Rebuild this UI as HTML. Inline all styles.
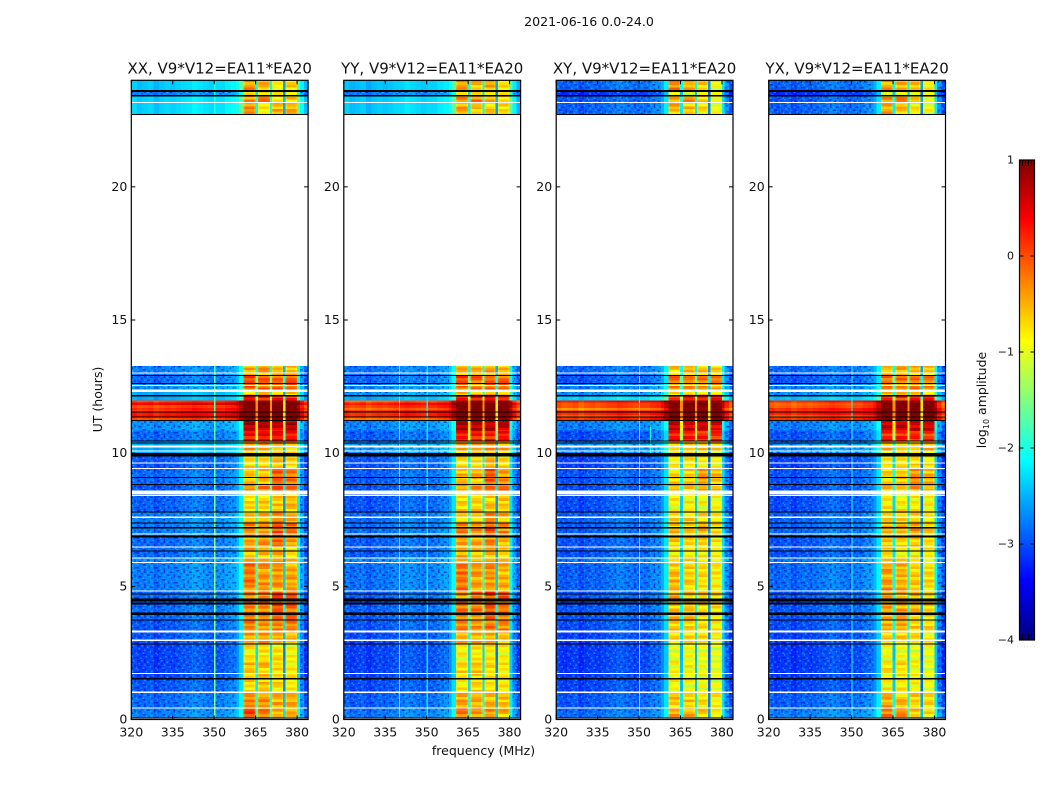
<!DOCTYPE html>
<html lang="en">
<head>
<meta charset="utf-8">
<title>2021-06-16 0.0-24.0</title>
<style>
html,body{margin:0;padding:0;background:#fff;}
svg{display:block;}
text{font-family:"DejaVu Sans","Liberation Sans",sans-serif;fill:#111;}
</style>
</head>
<body>
<svg id="figure" xmlns="http://www.w3.org/2000/svg" width="1050" height="800" viewBox="0 0 1050 800">
  <defs>
    <pattern id="speckle" patternUnits="userSpaceOnUse" width="19.6" height="15">
      <g fill="#0000c0" opacity="0.55">
        <rect x="0" y="0" width="2.8" height="1.5"/>
        <rect x="7" y="0" width="1.4" height="3"/>
        <rect x="12.6" y="1.5" width="2.8" height="1.5"/>
        <rect x="4.2" y="3" width="1.4" height="1.5"/>
        <rect x="16.8" y="4.5" width="1.4" height="3"/>
        <rect x="9.8" y="4.5" width="2.8" height="1.5"/>
        <rect x="1.4" y="6" width="2.8" height="1.5"/>
        <rect x="14" y="7.5" width="1.4" height="1.5"/>
        <rect x="5.6" y="9" width="2.8" height="1.5"/>
        <rect x="11.2" y="10.5" width="1.4" height="3"/>
        <rect x="0" y="12" width="1.4" height="1.5"/>
        <rect x="16.8" y="12" width="2.8" height="1.5"/>
        <rect x="7" y="13.5" width="1.4" height="1.5"/>
      </g>
      <g fill="#50c8ff" opacity="0.5">
        <rect x="4.2" y="0" width="1.4" height="1.5"/>
        <rect x="15.4" y="0" width="1.4" height="1.5"/>
        <rect x="9.8" y="1.5" width="1.4" height="1.5"/>
        <rect x="1.4" y="3" width="1.4" height="1.5"/>
        <rect x="7" y="4.5" width="1.4" height="1.5"/>
        <rect x="12.6" y="6" width="1.4" height="1.5"/>
        <rect x="18.2" y="7.5" width="1.4" height="1.5"/>
        <rect x="5.6" y="7.5" width="1.4" height="1.5"/>
        <rect x="0" y="9" width="1.4" height="1.5"/>
        <rect x="14" y="10.5" width="1.4" height="1.5"/>
        <rect x="8.4" y="11" width="1.4" height="1.5"/>
        <rect x="3" y="12.5" width="1.4" height="1.5"/>
      </g>
    </pattern>
  </defs>
  <text x="589" y="26" font-size="12.6" text-anchor="middle">2021-06-16 0.0-24.0</text>
  <text x="483.5" y="755" font-size="12.5" text-anchor="middle">frequency (MHz)</text>
  <text x="0" y="0" font-size="12.5" text-anchor="middle" transform="translate(102 399.5) rotate(-90)">UT (hours)</text>
  <text x="0" y="0" font-size="12.5" text-anchor="middle" transform="translate(986 400) rotate(-90)">log<tspan font-size="8" dy="3">10</tspan><tspan dy="-3"> amplitude</tspan></text>
  <g id="panels"></g>
  <g id="colorbar"></g>
</svg>
<script>
// ---------- chart data ----------
const panelTitles = ['XX, V9*V12=EA11*EA20', 'YY, V9*V12=EA11*EA20', 'XY, V9*V12=EA11*EA20', 'YX, V9*V12=EA11*EA20'];
const freqTicks = [320, 335, 350, 365, 380];
const hourTicks = [0, 5, 10, 15, 20];
const colorTicks = [1, 0, -1, -2, -3, -4];
const colorTickLabels = ['1', '0', '\u22121', '\u22122', '\u22123', '\u22124'];

// Channel groups: edges in MHz; band index -1 = out of band, 0..3 = sub-band, 4 = gap between sub-bands
const channelEdges = [320,322,324,326,328,330,332,334,336,338,340,342,344,346,348,350,352,354,356,358,359,360.6,361.2,364.4,364.9,365.9,366.4,369.6,370.2,371,371.5,374.4,374.9,375.9,376.4,379.4,380,381,382.5,384];
const channelBand = [-1,-1,-1,-1,-1,-1,-1,-1,-1,-1,-1,-1,-1,-1,-1,-1,-1,-1,-1,-1,-1,0,0,0,4,1,1,1,4,2,2,2,4,3,3,3,-1,-1,-1];
const channelGain = [-0.1,-0.2,-0.15,-0.1,-0.25,-0.15,-0.1,-0.15,-0.1,-0.05,-0.03,0.05,0,-0.05,-0.1,-0.05,-0.05,0.05,0.1,0.25,0.55,-0.12,0,-0.12,-1.5,-0.12,0,-0.12,-1.5,-0.12,0,-0.12,-2.0,-0.12,0,-0.12,0.55,0.1,-0.25];

// Time rows: start and end in hours
const rowStart = [0,0.45,1.01,1.54,2.22,2.85,3.31,3.76,4.54,4.85,5.86,6.08,6.46,6.87,7.36,7.81,8.56,8.83,9.43,9.88,10.10,10.44,10.85,11.23,11.42,11.6,11.8,11.98,12.13,12.36,12.62,12.92,22.72,23.17,23.44,23.63];
const rowEnd = [0.45,1.01,1.54,2.22,2.85,3.31,3.76,4.54,4.85,5.86,6.08,6.46,6.87,7.36,7.81,8.56,8.83,9.43,9.88,10.10,10.44,10.85,11.23,11.42,11.6,11.8,11.98,12.13,12.36,12.62,12.92,13.28,23.17,23.44,23.63,24];

const striation = [0.1,-0.15,0.18,0.02,-0.25,0.12,-0.05,0.2,-0.18,0.05,0.15,-0.28,0.08,-0.1,0.22,-0.02,-0.2,0.14,0.04,-0.12,0.25,-0.22,0.06,0.16,-0.08,-0.3,0.1,0.2,-0.14,0,0.12,-0.24,0.18,-0.06,0.08,-0.16,0.22];

// log10 amplitude per time row: out-of-band level, then four sub-band levels
const levelsXX = [
[-2.6,0.05,-0.2,-0.45,-0.5],[-2.7,-0.3,-0.35,-0.5,-0.5],[-2.8,-0.7,-0.6,-0.7,-0.8],[-2.9,-0.6,-0.55,-0.7,-0.8],
[-2.9,-0.75,-0.75,-0.75,-0.85],[-2.8,-0.4,-0.4,-0.4,-0.5],[-2.8,-0.25,-0.3,-0.2,-0.3],[-2.7,-0.2,-0.2,0,-0.1],
[-2.7,-0.3,-0.2,0.1,0],[-2.6,-0.2,-0.35,-0.35,-0.45],[-2.5,-0.5,-0.5,-0.5,-0.6],[-2.7,-0.45,-0.55,-0.5,-0.7],
[-2.7,-0.4,-0.4,-0.15,-0.45],[-2.6,-0.3,-0.3,0.05,-0.2],[-2.6,-0.5,-0.45,-0.3,-0.4],[-2.75,-0.7,-0.65,-0.6,-0.55],
[-2.8,-0.3,-0.3,-0.1,-0.1],[-2.7,-0.6,-0.5,-0.05,-0.25],[-2.8,-0.75,-0.7,-0.6,-0.7],[-2.4,-0.8,-0.7,-0.6,-0.7],
[-2.4,-0.45,-0.45,-0.4,-0.5],[-2.7,0.35,0.35,0.4,0.35],[-2.5,0.75,0.75,0.7,0.75],[0.3,1.2,1.2,1.2,1.2],
[0.4,1.2,1.2,1.2,1.2],[0.2,1.2,1.2,1.2,1.2],[0.35,1.2,1.2,1.2,1.2],[-2.4,0.3,0.25,0.25,0.25],
[-2.4,-0.6,-0.5,-0.5,-0.6],[-2.5,-0.1,-0.15,-0.1,-0.1],[-2.7,0.1,-0.1,-0.1,-0.1],[-2.6,-0.5,-0.4,-0.5,-0.5],
[-2.2,-0.35,-0.85,-0.5,-0.5],[-2.2,-0.3,-0.2,-0.6,-0.6],[-2.6,-0.7,-0.7,-0.8,-0.8],[-2.25,-0.35,-0.5,-0.85,-0.7]
];
const levelsYY = [
[-2.65,-0.15,-0.3,-0.4,-0.5],[-2.75,-0.4,-0.45,-0.5,-0.55],[-2.85,-0.8,-0.7,-0.75,-0.85],[-2.9,-0.7,-0.6,-0.75,-0.8],
[-2.9,-0.85,-0.8,-0.8,-0.85],[-2.85,-0.5,-0.45,-0.4,-0.55],[-2.8,-0.3,-0.35,-0.2,-0.3],[-2.75,-0.2,-0.25,0,-0.15],
[-2.75,-0.3,-0.2,0.1,-0.05],[-2.65,-0.2,-0.4,-0.35,-0.5],[-2.5,-0.5,-0.55,-0.5,-0.6],[-2.75,-0.5,-0.6,-0.5,-0.7],
[-2.75,-0.45,-0.45,-0.25,-0.5],[-2.65,-0.3,-0.35,-0.05,-0.3],[-2.7,-0.55,-0.5,-0.3,-0.45],[-2.8,-0.65,-0.65,-0.55,-0.6],
[-2.8,-0.35,-0.35,-0.15,-0.2],[-2.75,-0.55,-0.5,-0.05,-0.35],[-2.8,-0.7,-0.7,-0.5,-0.7],[-2.45,-0.8,-0.75,-0.6,-0.7],
[-2.45,-0.45,-0.5,-0.4,-0.5],[-2.75,0.3,0.3,0.3,0.3],[-2.55,0.75,0.7,0.7,0.7],[0.2,1.2,1.2,1.2,1.2],
[0.35,1.2,1.2,1.2,1.2],[0.15,1.2,1.2,1.2,1.2],[0.25,1.2,1.2,1.2,1.2],[-2.4,0.3,0.25,0.25,0.2],
[-2.45,-0.6,-0.55,-0.5,-0.6],[-2.55,-0.15,-0.2,-0.1,-0.15],[-2.7,0.05,-0.1,-0.15,-0.1],[-2.65,-0.5,-0.45,-0.5,-0.55],
[-2.25,-0.4,-0.6,-0.6,-0.7],[-2.25,-0.35,-0.3,-0.5,-0.7],[-2.6,-0.7,-0.75,-0.8,-0.9],[-2.3,-0.4,-0.5,-0.45,-0.75]
];
const levelsXY = [
[-2.7,-0.45,-0.5,-0.6,-0.8],[-2.8,-0.6,-0.65,-0.75,-0.85],[-2.9,-0.9,-0.9,-0.95,-1.0],[-2.95,-0.85,-0.85,-0.95,-1.0],
[-2.95,-1.0,-0.95,-1.0,-1.05],[-2.9,-0.7,-0.7,-0.75,-0.8],[-2.85,-0.6,-0.65,-0.7,-0.75],[-2.8,-0.55,-0.6,-0.6,-0.7],
[-2.8,-0.5,-0.55,-0.55,-0.7],[-2.75,-0.55,-0.65,-0.75,-0.8],[-2.6,-0.7,-0.75,-0.8,-0.85],[-2.8,-0.75,-0.8,-0.8,-0.9],
[-2.8,-0.65,-0.7,-0.65,-0.8],[-2.75,-0.55,-0.6,-0.45,-0.7],[-2.75,-0.7,-0.7,-0.65,-0.75],[-2.85,-0.85,-0.85,-0.85,-0.9],
[-2.85,-0.5,-0.55,-0.45,-0.6],[-2.8,-0.7,-0.65,-0.4,-0.55],[-2.9,-0.85,-0.8,-0.8,-0.85],[-2.55,-0.9,-0.85,-0.85,-0.9],
[-2.5,-0.6,-0.6,-0.6,-0.65],[-2.85,0.25,0.25,0.2,0.2],[-2.6,0.7,0.65,0.6,0.6],[0.1,1.2,1.2,1.2,1.2],
[0.25,1.2,1.2,1.2,1.2],[0.05,1.2,1.2,1.2,1.2],[0.2,1.2,1.2,1.2,1.2],[-2.2,0.25,0.2,0.2,0.2],
[-2.5,-0.7,-0.65,-0.6,-0.7],[-2.6,-0.3,-0.35,-0.3,-0.35],[-2.8,-0.1,-0.2,-0.25,-0.25],[-2.7,-0.6,-0.55,-0.6,-0.65],
[-2.75,-0.5,-0.6,-0.75,-0.95],[-2.8,-0.45,-0.3,-0.6,-0.9],[-3.0,-0.9,-0.9,-0.95,-1.0],[-2.75,-0.3,-0.5,-0.7,-0.9]
];
const levelsYX = [
[-2.6,-0.2,-0.3,-0.5,-0.7],[-2.75,-0.45,-0.5,-0.65,-0.75],[-2.9,-0.85,-0.8,-0.9,-0.95],[-2.95,-0.75,-0.75,-0.85,-0.95],
[-2.95,-0.95,-0.9,-0.95,-1.0],[-2.9,-0.6,-0.6,-0.7,-0.75],[-2.85,-0.5,-0.5,-0.65,-0.7],[-2.8,-0.45,-0.45,-0.55,-0.65],
[-2.8,-0.45,-0.45,-0.45,-0.65],[-2.7,-0.4,-0.5,-0.65,-0.7],[-2.6,-0.65,-0.7,-0.75,-0.8],[-2.8,-0.7,-0.75,-0.75,-0.85],
[-2.8,-0.6,-0.65,-0.6,-0.75],[-2.7,-0.5,-0.5,-0.4,-0.65],[-2.75,-0.65,-0.65,-0.6,-0.7],[-2.85,-0.8,-0.8,-0.8,-0.85],
[-2.85,-0.45,-0.5,-0.4,-0.55],[-2.8,-0.7,-0.6,-0.3,-0.5],[-2.9,-0.8,-0.8,-0.7,-0.8],[-2.5,-0.85,-0.8,-0.8,-0.85],
[-2.5,-0.55,-0.55,-0.55,-0.6],[-2.8,0.25,0.25,0.2,0.2],[-2.6,0.65,0.65,0.6,0.6],[0.15,1.2,1.2,1.2,1.2],
[0.3,1.2,1.2,1.2,1.2],[0.1,1.2,1.2,1.2,1.2],[0.2,1.2,1.2,1.2,1.2],[-2.3,0.25,0.2,0.2,0.2],
[-2.5,-0.65,-0.6,-0.55,-0.65],[-2.6,-0.25,-0.3,-0.25,-0.3],[-2.8,-0.05,-0.15,-0.2,-0.2],[-2.7,-0.55,-0.5,-0.55,-0.6],
[-2.75,-0.45,-0.55,-0.75,-0.95],[-2.8,-0.4,-0.3,-0.55,-0.85],[-3.0,-0.85,-0.85,-0.9,-1.0],[-2.75,-0.35,-0.5,-0.6,-0.85]
];
const panelLevels = [levelsXX, levelsYY, levelsXY, levelsYX];

// Narrow interference channels per panel: MHz, start hour, end hour, level
const rfiXX = [[350,0,8.5,-1.5],[350,8.5,13.28,-1.7],[350,22.72,24,-2.0]];
const rfiYY = [[340,0,13.28,-1.9],[350,0,13.28,-2.2]];
const rfiXY = [[350,0,13.28,-1.9],[354,9.9,11,-2.0]];
const rfiYX = [[350,0,13.28,-2.0]];
const panelRfi = [rfiXX, rfiYY, rfiXY, rfiYX];

// Flagged time ranges (hours)
const blackStart = [0.04,1.51,2.82,3.72,3.93,4.32,4.43,4.70,6.30,6.84,7.18,7.35,7.77,8.81,9.06,9.88,10.36,10.43,11.21,11.33,11.52,12.12,12.60,12.90,22.70,23.40,23.56];
const blackEnd = [0.08,1.55,2.86,3.76,4.01,4.39,4.54,4.74,6.34,6.90,7.22,7.39,7.81,8.85,9.10,10.01,10.40,10.47,11.25,11.37,11.56,12.18,12.64,12.94,22.74,23.44,23.64];
const whiteStart = [0,0.41,1.00,1.70,2.95,3.26,4.81,5.87,6.05,6.45,6.95,7.57,8.39,8.45,9.40,9.61,10.06,10.21,12.29,12.52,12.99,23.15];
const whiteEnd = [0.04,0.45,1.06,1.74,3.01,3.35,4.85,5.91,6.09,6.49,6.99,7.63,8.43,8.60,9.44,9.65,10.10,10.29,12.39,12.56,13.03,23.19];

// ---------- scales ----------
const SVGNS = 'http://www.w3.org/2000/svg';
const panelLeft = [131.3, 343.8, 556.2, 768.7];
const panelWidth = 176.8;
const plotTop = 80.3;
const plotBottom = 719.5;
const freqMin = 320;
const freqMax = 384;
const hourMax = 24;
const stepHours = 0.1;

function xScale(panel, mhz) { return panelLeft[panel] + (mhz - freqMin) / (freqMax - freqMin) * panelWidth; }
function yScale(hour) { return plotBottom - hour / hourMax * (plotBottom - plotTop); }

function jet(v) {
  const t = Math.max(0, Math.min(1, (v + 4) / 5));
  const ramp = (a) => Math.max(0, Math.min(1, 1.5 - Math.abs(4 * t - a)));
  const r = ramp(3), g = ramp(2), b = ramp(1);
  return 'rgb(' + Math.round(r * 255) + ',' + Math.round(g * 255) + ',' + Math.round(b * 255) + ')';
}

function make(tag, parent, attrs) {
  const node = document.createElementNS(SVGNS, tag);
  for (const key in attrs) node.setAttribute(key, attrs[key]);
  parent.appendChild(node);
  return node;
}

function addCell(parent, p, c, h0, h1, value) {
  const cell = make('rect', parent, {
    x: xScale(p, channelEdges[c]),
    y: yScale(h1),
    width: xScale(p, channelEdges[c + 1]) - xScale(p, channelEdges[c]),
    height: yScale(h0) - yScale(h1),
    fill: jet(value)
  });
  
  
}

function drawPanel(p) {
  const root = document.getElementById('panels');
  const x0 = panelLeft[p];
  const x1 = x0 + panelWidth;
  const group = make('g', root, {});
  
  

  const heat = make('g', group, { 'shape-rendering': 'crispEdges' });
  
  

  const levels = panelLevels[p];
  levels.forEach(function (row, r) {
    const bandMean = (row[1] + row[2] + row[3] + row[4]) / 4;
    const hot = row[0] > -1;
    channelBand.forEach(function (band, c) {
      const base = band === -1 ? row[0] : (band === 4 ? bandMean : row[band + 1]);
      const level = base + channelGain[c];
      const striped = band >= 0 && band < 4 || (hot && band === -1);
      if (!striped) {
        addCell(heat, p, c, rowStart[r], rowEnd[r], level);
        return;
      }
      for (let h = rowStart[r]; h < rowEnd[r] - 0.001; h += stepHours) {
        const top = Math.min(h + stepHours, rowEnd[r]);
        const k = Math.round(h / stepHours) + (band < 0 ? 0 : band * 7) + p * 3;
        addCell(heat, p, c, h, top, level + striation[k % striation.length]);
      }
    });
    if (row[0] < -2.4) {
      [[freqMin, 358], [381, freqMax]].forEach(function (span) {
        const noise = make('rect', heat, {
          x: xScale(p, span[0]),
          y: yScale(rowEnd[r]),
          width: xScale(p, span[1]) - xScale(p, span[0]),
          height: yScale(rowStart[r]) - yScale(rowEnd[r]),
          fill: 'url(#speckle)'
        });
        
        
      });
    }
  });

  panelRfi[p].forEach(function (line) {
    const rfi = make('rect', heat, {
      x: xScale(p, line[0]),
      y: yScale(line[2]),
      width: xScale(p, line[0] + 0.4) - xScale(p, line[0]),
      height: yScale(line[1]) - yScale(line[2]),
      fill: jet(line[3])
    });
    
    
  });

  blackStart.forEach(function (start, i) {
    const flag = make('rect', heat, {
      x: x0, y: yScale(blackEnd[i]), width: panelWidth,
      height: yScale(start) - yScale(blackEnd[i]), fill: '#000'
    });
    
    
  });
  whiteStart.forEach(function (start, i) {
    const flag = make('rect', heat, {
      x: x0, y: yScale(whiteEnd[i]), width: panelWidth,
      height: yScale(start) - yScale(whiteEnd[i]), fill: '#fff'
    });
    
    
  });

  const frame = make('rect', group, {
    x: x0, y: plotTop, width: panelWidth, height: plotBottom - plotTop,
    fill: 'none', stroke: '#000', 'stroke-width': 1.2
  });
  
  

  freqTicks.forEach(function (f) {
    const x = xScale(p, f);
    const tickBottom = make('line', group, { x1: x, x2: x, y1: plotBottom, y2: plotBottom - 4, stroke: '#000', 'stroke-width': 1 });
    
    
    const tickTop = make('line', group, { x1: x, x2: x, y1: plotTop, y2: plotTop + 4, stroke: '#000', 'stroke-width': 1 });
    
    
    const label = make('text', group, { x: x, y: plotBottom + 17, 'font-size': 12.5, 'text-anchor': 'middle' });
    label.textContent = String(f);
    
    
  });

  hourTicks.forEach(function (h) {
    const y = yScale(h);
    const tickLeft = make('line', group, { x1: x0, x2: x0 + 4, y1: y, y2: y, stroke: '#000', 'stroke-width': 1 });
    
    
    const tickRight = make('line', group, { x1: x1, x2: x1 - 4, y1: y, y2: y, stroke: '#000', 'stroke-width': 1 });
    
    
    const label = make('text', group, { x: x0 - 4, y: y + 4, 'font-size': 12.5, 'text-anchor': 'end' });
    label.textContent = String(h);
    
    
  });

  const title = make('text', group, { x: x0 + panelWidth / 2, y: 73.5, 'font-size': 15, 'text-anchor': 'middle' });
  title.textContent = panelTitles[p];
  
  
}

function drawColorbar() {
  const root = document.getElementById('colorbar');
  const cbX = 1019.5;
  const cbW = 15;
  const cbTop = 160;
  const cbBottom = 640;
  const cbY = (v) => cbBottom - (v + 4) / 5 * (cbBottom - cbTop);
  const steps = 256;
  const grad = make('g', root, { 'shape-rendering': 'crispEdges' });
  
  
  for (let i = 0; i < steps; i++) {
    const v0 = -4 + 5 * i / steps;
    const v1 = -4 + 5 * (i + 1) / steps;
    const seg = make('rect', grad, {
      x: cbX, y: cbY(v1), width: cbW, height: cbY(v0) - cbY(v1) + 0.5,
      fill: jet((v0 + v1) / 2)
    });
    
    
  }
  const frame = make('rect', root, {
    x: cbX, y: cbTop, width: cbW, height: cbBottom - cbTop,
    fill: 'none', stroke: '#000', 'stroke-width': 1.2
  });
  
  

  colorTicks.forEach(function (v, i) {
    const y = cbY(v);
    const tickA = make('line', root, { x1: cbX, x2: cbX + 4, y1: y, y2: y, stroke: '#000', 'stroke-width': 1 });
    
    
    const tickB = make('line', root, { x1: cbX + cbW, x2: cbX + cbW - 4, y1: y, y2: y, stroke: '#000', 'stroke-width': 1 });
    
    
    const label = make('text', root, { x: 1014, y: y + 3.5, 'font-size': 11, 'text-anchor': 'end' });
    label.textContent = colorTickLabels[i];
    
    
  });

  for (let k = 1; k < 5; k++) {
    const x = cbX + cbW * k / 5;
    const topTick = make('line', root, { x1: x, x2: x, y1: cbTop, y2: cbTop + 6, stroke: '#000', 'stroke-width': 1 });
    
    
    const botTick = make('line', root, { x1: x, x2: x, y1: cbBottom, y2: cbBottom - 6, stroke: '#000', 'stroke-width': 1 });
    
    
  }

  const dots = make('text', root, { x: 1017, y: 646.5, 'font-size': 5, textLength: 18 });
  dots.textContent = '......';
  dots.style.fill = '#888';
  
  
}

panelTitles.forEach(function (t, p) { drawPanel(p); });
drawColorbar();
</script>
</body>
</html>
